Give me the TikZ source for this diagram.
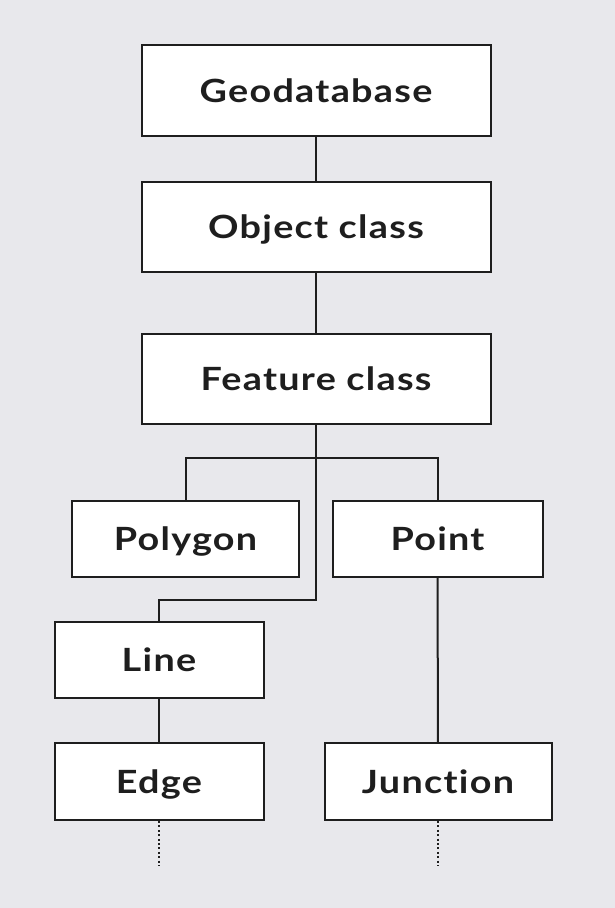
\documentclass[tikz,border=0pt]{standalone}
\usepackage{fontspec}
\setmainfont{Lato}
\newfontfamily\boxfont{Lato}[FakeStretch=1.18, LetterSpace=4, Ligatures=NoCommon]
\definecolor{bg}{HTML}{E8E8EC}
\definecolor{ink}{HTML}{1E1E1E}
\begin{document}
\begin{tikzpicture}[x=1pt,y=-1pt,
  box/.style={draw=ink, line width=2pt, fill=white, inner sep=0pt,
    text height=23pt, text depth=0pt,
    font=\boxfont\bfseries\fontsize{32}{38}\selectfont, text=ink},
  link/.style={draw=ink, line width=2pt},
  more/.style={draw=ink, line width=2pt, dash pattern=on 2pt off 2.4pt}]
  % page and background
  \useasboundingbox[fill=bg] (0,0) rectangle (615,908);

  % class hierarchy boxes
  \node[box, minimum width=349pt, minimum height=91pt] (geo)   at (316,90.5)  {Geodatabase};
  \node[box, minimum width=349pt, minimum height=90pt] (obj)   at (316,226.5) {Object class};
  \node[box, minimum width=349pt, minimum height=90pt] (feat)  at (316,379)   {Feature class};
  \node[box, minimum width=227pt, minimum height=76pt] (poly)  at (185.5,538.5) {Polygon};
  \node[box, minimum width=210pt, minimum height=76pt] (point) at (437.5,538.5) {Point};
  \node[box, minimum width=209pt, minimum height=76pt] (line)  at (159,660)   {Line};
  \node[box, minimum width=209pt, minimum height=77pt] (edge)  at (159,781.5) {Edge};
  \node[box, minimum width=227pt, minimum height=77pt] (junc)  at (438,781.5) {Junction};

  % branching points
  \coordinate (fork) at (316,458);
  \coordinate (bend) at (316,600);
  \coordinate (edgemore) at (159,866);
  \coordinate (juncmore) at (438,866);

  % connectors
  \draw[link] (geo) -- (obj);
  \draw[link] (obj) -- (feat);
  \draw[link] (feat.south) -- (bend) -| (line.north);
  \draw[link] (poly.north) |- (fork) -| (point.north);
  \draw[link] (line) -- (edge);
  \draw[link] (point) -- (junc);
  \draw[more] (edge.south) -- (edgemore);
  \draw[more] (junc.south) -- (juncmore);
\end{tikzpicture}
\end{document}
